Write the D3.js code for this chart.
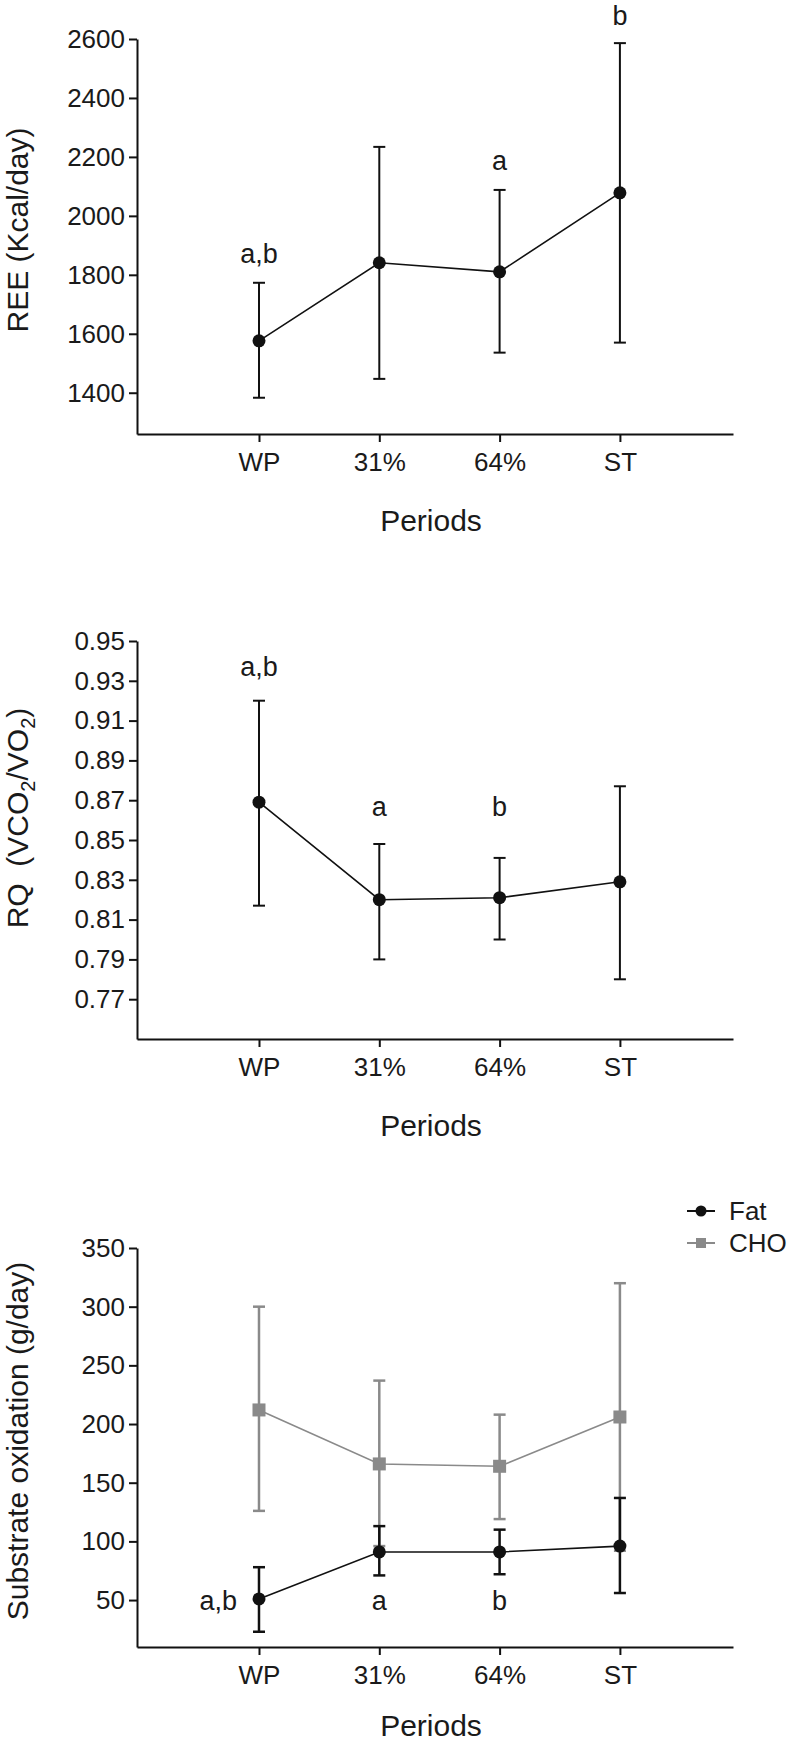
<!DOCTYPE html>
<html>
<head>
<meta charset="utf-8">
<script src="https://cdn.jsdelivr.net/npm/d3@7/dist/d3.min.js"></script>
<style>
  html, body { margin: 0; padding: 0; background: #fff; }
  svg { display: block; }
</style>
</head>
<body>
<script>
// ---------------- DATA ----------------
const categories = ["WP", "31%", "64%", "ST"];

// Panel 1: REE (Kcal/day)
const reeTicks = [1400, 1600, 1800, 2000, 2200, 2400, 2600];
const reeMean  = [1576, 1841, 1810, 2078];
const reeUpper = [1773, 2234, 2088, 2586];
const reeLower = [1383, 1447, 1536, 1570];
const reeLetters   = ["a,b", "", "a", "b"];
const reeLetterPos = [1841, null, 2156, 2647];

// Panel 2: RQ
const rqTicks = [0.77, 0.79, 0.81, 0.83, 0.85, 0.87, 0.89, 0.91, 0.93, 0.95];
const rqMean  = [0.869, 0.820, 0.821, 0.829];
const rqUpper = [0.920, 0.848, 0.841, 0.877];
const rqLower = [0.817, 0.790, 0.800, 0.780];
const rqLetters   = ["a,b", "a", "b", ""];
const rqLetterPos = [0.9325, 0.862, 0.862, null];

// Panel 3: Substrate oxidation (g/day)
const soTicks = [50, 100, 150, 200, 250, 300, 350];
const fatMean  = [51, 91, 91, 96];
const fatUpper = [78, 113, 110, 137];
const fatLower = [23, 71, 72, 56];
const choMean  = [212, 166, 164, 206];
const choUpper = [300, 237, 208, 320];
const choLower = [126, 96, 119, 92];
const soLetters   = ["a,b", "a", "b", ""];
const soLetterPos = [41.5, 41.5, 41.5, null];
const legendLabels = ["Fat", "CHO"];

// ---------------- LAYOUT ----------------
const W = 792, H = 1747;
const FONT = "'Liberation Sans', Arial, Helvetica, sans-serif";
const TXT = "#1a1a1a";
const GRAY = "#8a8a8a";

const svg = d3.select("body").append("svg")
  .attr("width", W).attr("height", H)
  .attr("font-family", FONT);

const x = d3.scaleLinear().domain([-0.014, 4.94]).range([137, 733]);

function drawAxes(y, ticks, fmt, titleOffset) {
  const [yb] = y.range();
  const gx = svg.append("g")
    .attr("transform", `translate(0,${yb})`)
    .call(d3.axisBottom(x).tickValues([1, 2, 3, 4])
      .tickFormat(i => categories[i - 1])
      .tickSize(8).tickSizeOuter(0).tickPadding(11));
  const gy = svg.append("g")
    .attr("transform", `translate(${x.range()[0]},0)`)
    .call(d3.axisLeft(y).tickValues(ticks).tickFormat(fmt)
      .tickSize(8).tickSizeOuter(0).tickPadding(4));
  [gx, gy].forEach(g => {
    g.attr("font-size", 26).attr("font-family", FONT);
    g.select(".domain").attr("stroke", "#111").attr("stroke-width", 2);
    g.selectAll(".tick line").attr("stroke", "#111").attr("stroke-width", 2);
    g.selectAll(".tick text").attr("fill", TXT);
  });
  svg.append("text")
    .attr("x", 431).attr("y", yb + titleOffset)
    .attr("text-anchor", "middle")
    .attr("font-size", 30).attr("fill", TXT)
    .text("Periods");
}

function drawSeries(y, mean, lo, hi, color, marker, ebW) {
  const g = svg.append("g");
  const capHalf = 6;
  const data = mean.map((m, i) => ({ i: i + 1, m, lo: lo[i], hi: hi[i] }));
  g.selectAll("line.eb").data(data).join("line")
    .attr("x1", d => x(d.i)).attr("x2", d => x(d.i))
    .attr("y1", d => y(d.lo)).attr("y2", d => y(d.hi))
    .attr("stroke", color).attr("stroke-width", ebW);
  g.selectAll("line.capHi").data(data).join("line")
    .attr("x1", d => x(d.i) - capHalf).attr("x2", d => x(d.i) + capHalf)
    .attr("y1", d => y(d.hi)).attr("y2", d => y(d.hi))
    .attr("stroke", color).attr("stroke-width", ebW);
  g.selectAll("line.capLo").data(data).join("line")
    .attr("x1", d => x(d.i) - capHalf).attr("x2", d => x(d.i) + capHalf)
    .attr("y1", d => y(d.lo)).attr("y2", d => y(d.lo))
    .attr("stroke", color).attr("stroke-width", ebW);
  g.append("path")
    .attr("d", d3.line().x(d => x(d.i)).y(d => y(d.m))(data))
    .attr("fill", "none").attr("stroke", color).attr("stroke-width", 1.6);
  if (marker === "circle") {
    g.selectAll("circle").data(data).join("circle")
      .attr("cx", d => x(d.i)).attr("cy", d => y(d.m)).attr("r", 6.5)
      .attr("fill", color);
  } else {
    g.selectAll("rect").data(data).join("rect")
      .attr("x", d => x(d.i) - 6.5).attr("y", d => y(d.m) - 6.5)
      .attr("width", 13).attr("height", 13)
      .attr("fill", color);
  }
}

function drawLetters(y, letters, pos, anchorMode) {
  letters.forEach((t, i) => {
    if (!t) return;
    let xx = x(i + 1), anchor = "middle";
    if (anchorMode && anchorMode[i] === "left") { xx = x(i + 1) - 22; anchor = "end"; }
    svg.append("text")
      .attr("x", xx).attr("y", y(pos[i]))
      .attr("text-anchor", anchor)
      .attr("font-size", 27).attr("fill", TXT)
      .text(t);
  });
}

function yTitle(cy, build) {
  const t = svg.append("text")
    .attr("transform", `translate(28,${cy}) rotate(-90)`)
    .attr("text-anchor", "middle")
    .attr("font-size", 30).attr("fill", TXT);
  build(t);
}

// ---------------- PANEL 1 ----------------
const y1 = d3.scaleLinear().domain([1260, 2600]).range([434, 39]);
drawAxes(y1, reeTicks, d3.format("d"), 97);
drawSeries(y1, reeMean, reeLower, reeUpper, "#111", "circle", 2);
drawLetters(y1, reeLetters, reeLetterPos);
yTitle(230, t => t.text("REE (Kcal/day)"));

// ---------------- PANEL 2 ----------------
const y2 = d3.scaleLinear().domain([0.75, 0.95]).range([1039, 641]);
drawAxes(y2, rqTicks, d3.format(".2f"), 97);
drawSeries(y2, rqMean, rqLower, rqUpper, "#111", "circle", 2);
drawLetters(y2, rqLetters, rqLetterPos);
yTitle(818, t => {
  t.append("tspan").text("RQ\u00a0\u00a0(VCO");
  t.append("tspan").attr("font-size", 20).attr("dy", 7).text("2");
  t.append("tspan").attr("dy", -7).text("/VO");
  t.append("tspan").attr("font-size", 20).attr("dy", 7).text("2");
  t.append("tspan").attr("dy", -7).text(")");
});

// ---------------- PANEL 3 ----------------
const y3 = d3.scaleLinear().domain([10, 350]).range([1647, 1248]);
drawAxes(y3, soTicks, d3.format("d"), 89);
drawSeries(y3, choMean, choLower, choUpper, GRAY, "square", 2.5);
drawSeries(y3, fatMean, fatLower, fatUpper, "#111", "circle", 2.5);
drawLetters(y3, soLetters, soLetterPos, ["left", "mid", "mid", "mid"]);
yTitle(1441, t => t.text("Substrate oxidation (g/day)"));

// legend
const legend = svg.append("g");
const legendRows = [
  { label: legendLabels[0], color: "#111", marker: "circle", y: 1211 },
  { label: legendLabels[1], color: GRAY, marker: "square", y: 1243 }
];
legendRows.forEach(r => {
  legend.append("line")
    .attr("x1", 687).attr("x2", 715).attr("y1", r.y).attr("y2", r.y)
    .attr("stroke", r.color).attr("stroke-width", 2);
  if (r.marker === "circle") {
    legend.append("circle").attr("cx", 701).attr("cy", r.y).attr("r", 5.5).attr("fill", r.color);
  } else {
    legend.append("rect").attr("x", 696).attr("y", r.y - 5).attr("width", 10).attr("height", 10).attr("fill", r.color);
  }
  legend.append("text")
    .attr("x", 729).attr("y", r.y).attr("dy", "0.35em")
    .attr("font-size", 26).attr("fill", TXT)
    .text(r.label);
});
</script>
</body>
</html>
